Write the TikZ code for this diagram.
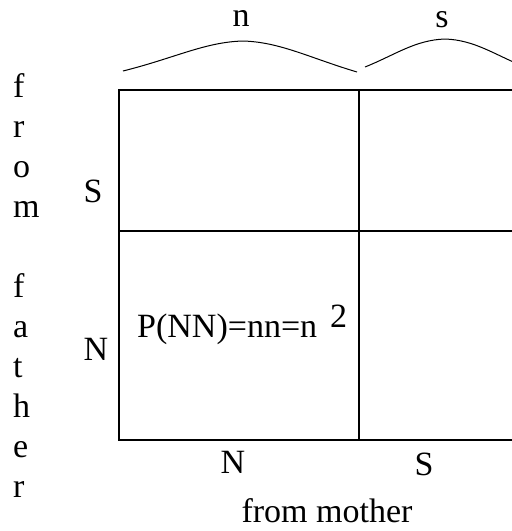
\documentclass[tikz,border=0pt]{standalone}
\usepackage{fontspec}
\setmainfont{Liberation Serif}
\begin{document}
\begin{tikzpicture}[x=1pt,y=-1pt,
  lbl/.style={inner sep=0pt,anchor=base,font=\fontsize{34}{40}\selectfont},
  col/.style={inner sep=0pt,anchor=base west,font=\fontsize{34}{40}\selectfont},
  grid line/.style={line width=1.6pt},
  brace line/.style={line width=1pt}]
\useasboundingbox (0,0) rectangle (512,531);
\clip (0,0) rectangle (512,531);

% Punnett square frame (right column runs past the edge)
\draw[grid line] (530,90) -- (119,90) -- (119,440) -- (530,440);
\draw[grid line] (119,231) -- (530,231);
\draw[grid line] (359,90) -- (359,440);

% brackets over the columns
\draw[brace line] (123,71) .. controls (175,58) and (205,42) .. (243,41)
                           .. controls (280,42) and (310,58) .. (357,72);
\draw[brace line] (365,67) .. controls (395,55) and (415,40) .. (445,39)
                           .. controls (475,40) and (495,55) .. (525,67);

% column labels
\node[lbl] (topn) at (241,26) {n};
\node[lbl] (tops) at (442,27) {s};
\node[lbl] (botN) at (233,473) {N};
\node[lbl] (botS) at (424,475) {S};
\node[lbl] (mother) at (327,522) {from mother};

% row labels
\node[lbl] (rowS) at (93,202) {S};
\node[lbl] (rowN) at (96,360) {N};

% cell entry
\node[col] (cell) at (137,337) {P(NN)=nn=n};
\node[col] (sq) at (330,327) {2};

% "from father" written downwards
\node[col] (f1) at (13,97) {f};
\node[col] (f2) at (13,137) {r};
\node[col] (f3) at (13,177) {o};
\node[col] (f4) at (13,217) {m};
\node[col] (f5) at (13,297) {f};
\node[col] (f6) at (13,337) {a};
\node[col] (f7) at (13,377) {t};
\node[col] (f8) at (13,417) {h};
\node[col] (f9) at (13,457) {e};
\node[col] (f10) at (13,497) {r};
\end{tikzpicture}
\end{document}
